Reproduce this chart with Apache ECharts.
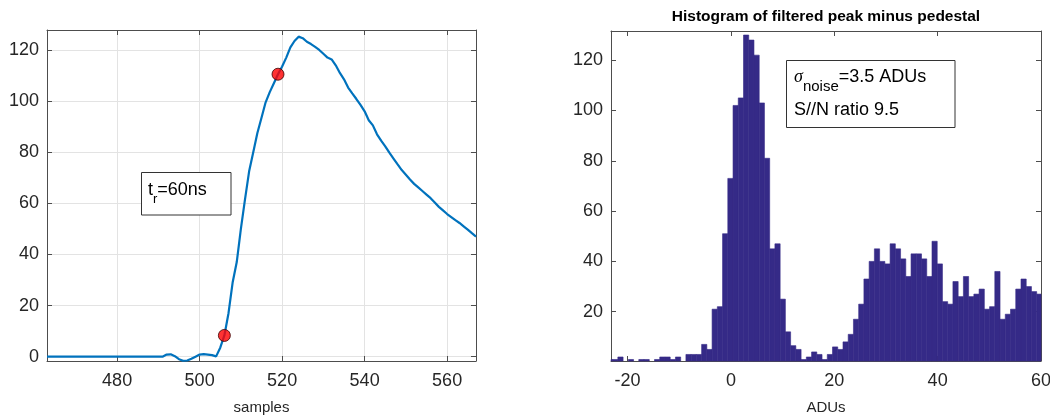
<!DOCTYPE html>
<html>
<head>
<meta charset="utf-8">
<script src="https://cdn.jsdelivr.net/npm/echarts@6/dist/echarts.min.js"></script>
<style>html,body{margin:0;padding:0;background:#fff}#c{width:1050px;height:415px}</style>
</head>
<body>
<div id="c"></div>
<script>
// ---- Left panel: filtered pulse ----
const pulseSamples = [463,464,465,466,467,468,469,470,471,472,473,474,475,476,477,478,479,480,481,482,483,484,485,486,487,488,489,490,491,
  492,493,494,495,496,497,498,499,500,501,502,503,504,505,506,507,508,509,510,511,512,513,514,515,516,517,518,519,520,521,522,523,524,525,
  526,527,528,529,530,531,532,533,534,535,536,537,538,539,540,541,542,543,544,545,546,547,548,549,550,551,552,553,554,555,556,557,558,559,
  560,561,562,563,564,565,566,567];
const pulseValues = [0,0,0,0,0,0,0,0,0,0,0,0,0,0,0,0,0,0,0,0,0,0,0,0,0,0,0,0,0,
  0.8,0.9,0.2,-1,-1.6,-1.5,-0.8,0,0.8,1,0.8,0.6,0.1,3.5,8.3,17,29,37,50,61.5,72.5,80,87.5,93.5,99.5,103.5,107,110.5,113.5,117,121,123.5,125.2,124.6,
  123.2,122.3,121.2,120,118.5,117,116.3,114,111,108.5,105.3,103,100.8,98.5,96,92.5,90.5,87,84.5,82.3,79.8,77.5,75.2,73,71.2,69.3,67.6,66.2,64.8,63.4,62,60.3,58.6,57.2,
  55.8,54.6,53.4,52.3,51,49.7,48.3,47];
const riseMarkSamples = [506, 519];
const riseMarkValues = [8.3, 110.5];
const pulseXTicks = [480, 500, 520, 540, 560];
const pulseYTicks = [0, 20, 40, 60, 80, 100, 120];

// ---- Right panel: histogram ----
const histBinStart = -23.9;   // left edge of first bin (ADUs)
const histBinWidth = 1.013;   // bin width (ADUs)
const histCounts = [1,1,2,0,1,0,1,1,0,1,2,2,1,2,0,3,3,3,7,5,
  21,22,51,73,102,105,130,128,122,103,81,45,47,25,12,6.5,5,1,2,4,3,1,3,6,5,8,11,17,23,33,
  40,45,40,39,47,45,41,34,43,43,41,34,48,39,24,23,32,26,34,26,27,29,21,22,36,17,19,21,29,33,30,28,27];
const histXTicks = [-20, 0, 20, 40, 60];
const histYTicks = [20, 40, 60, 80, 100, 120];

const FONT = "'Liberation Sans', Arial, Helvetica, sans-serif";
const TXT = '#262626';
const AX = '#4d4d4d';

const pulseData = pulseSamples.map((s, i) => [s, pulseValues[i]]);
const markData = riseMarkSamples.map((s, i) => [s, riseMarkValues[i]]);
const histData = histCounts.map((c, i) => [histBinStart + i * histBinWidth, histBinStart + (i + 1) * histBinWidth, c]);

function tickFilter(list) {
  return v => (list.some(t => Math.abs(t - v) < 1e-6) ? String(v) : '');
}
function mainX(grid, min, max, ticks, name, split) {
  return {
    type: 'value', gridIndex: grid, min: min, max: max, splitNumber: 5, position: 'bottom',
    axisLine: { show: true, onZero: false, lineStyle: { color: AX, width: 1 } },
    axisTick: { show: true, inside: true, length: 5, lineStyle: { color: AX } },
    axisLabel: { fontSize: 18, color: TXT, fontFamily: FONT, margin: 11, formatter: tickFilter(ticks) },
    splitLine: { show: split, lineStyle: { color: '#e3e3e3', width: 1 } },
    name: name, nameLocation: 'middle', nameGap: 39,
    nameTextStyle: { fontSize: 15, color: TXT, fontFamily: FONT }
  };
}
function mirrorX(grid, min, max) {
  return {
    type: 'value', gridIndex: grid, min: min, max: max, splitNumber: 5, position: 'top',
    axisLine: { show: true, onZero: false, lineStyle: { color: AX, width: 1 } },
    axisTick: { show: true, inside: true, length: 5, lineStyle: { color: AX } },
    axisLabel: { show: false }, splitLine: { show: false }
  };
}
function mainY(grid, min, max, ticks, split) {
  return {
    type: 'value', gridIndex: grid, min: min, max: max, splitNumber: 6, position: 'left',
    axisLine: { show: true, onZero: false, lineStyle: { color: AX, width: 1 } },
    axisTick: { show: true, inside: true, length: 5, lineStyle: { color: AX } },
    axisLabel: { fontSize: 18, color: TXT, fontFamily: FONT, margin: 8, formatter: tickFilter(ticks) },
    splitLine: { show: split, lineStyle: { color: '#e3e3e3', width: 1 } }
  };
}
function mirrorY(grid, min, max) {
  return {
    type: 'value', gridIndex: grid, min: min, max: max, splitNumber: 6, position: 'right',
    axisLine: { show: true, onZero: false, lineStyle: { color: AX, width: 1 } },
    axisTick: { show: true, inside: true, length: 5, lineStyle: { color: AX } },
    axisLabel: { show: false }, splitLine: { show: false }
  };
}

const chart = echarts.init(document.getElementById('c'), null, { renderer: 'canvas' });
chart.setOption({
  animation: false,
  backgroundColor: '#fff',
  grid: [
    { left: 47, top: 30, width: 429, height: 331, containLabel: false, outerBoundsMode: 'none' },
    { left: 611, top: 31, width: 430, height: 330, containLabel: false, outerBoundsMode: 'none' }
  ],
  xAxis: [
    mainX(0, 463, 567, pulseXTicks, 'samples', true),
    mirrorX(0, 463, 567),
    mainX(1, -23.2, 60, histXTicks, 'ADUs', false),
    mirrorX(1, -23.2, 60)
  ],
  yAxis: [
    mainY(0, -1.7, 127.8, pulseYTicks, true),
    mirrorY(0, -1.7, 127.8),
    mainY(1, 0.4, 131.6, histYTicks, false),
    mirrorY(1, 0.4, 131.6)
  ],
  series: [
    {
      type: 'line', xAxisIndex: 0, yAxisIndex: 0, data: pulseData, showSymbol: false, symbol: 'none',
      lineStyle: { color: '#0072BD', width: 2.2 }, z: 3
    },
    {
      type: 'scatter', xAxisIndex: 0, yAxisIndex: 0, data: markData, symbol: 'circle', symbolSize: 12,
      itemStyle: { color: '#ff0000', borderColor: '#3a0000', borderWidth: 1 }, z: 4
    },
    {
      type: 'custom', xAxisIndex: 2, yAxisIndex: 2, data: histData,
      renderItem: function (params, api) {
        const p0 = api.coord([api.value(0), api.value(2)]);
        const p1 = api.coord([api.value(1), 0]);
        const rect = echarts.graphic.clipRectByRect(
          { x: p0[0], y: p0[1], width: p1[0] - p0[0], height: p1[1] - p0[1] },
          { x: params.coordSys.x, y: params.coordSys.y, width: params.coordSys.width, height: params.coordSys.height }
        );
        return rect && {
          type: 'rect', shape: rect,
          style: { fill: '#352a87', stroke: '#352a87', lineWidth: 0.6 }
        };
      }
    }
  ],
  graphic: [
    { type: 'text', x: 826, y: 9, z: 10,
      style: { text: 'Histogram of filtered peak minus pedestal', fontSize: 15.5, fontWeight: 'bold', fill: '#000', fontFamily: FONT, align: 'center', textAlign: 'center' } },
    // t_r box
    { type: 'rect', shape: { x: 141.5, y: 172.5, width: 89.5, height: 42.5 }, z: 10,
      style: { fill: '#fff', stroke: '#333', lineWidth: 1 } },
    { type: 'text', x: 148, y: 181, z: 11,
      style: {
        text: '{m|t}{s|r}{m|=60ns}',
        rich: {
          m: { fontSize: 18, lineHeight: 18, verticalAlign: 'top', fill: '#000', fontFamily: FONT },
          s: { fontSize: 13, lineHeight: 25, verticalAlign: 'bottom', fill: '#000', fontFamily: FONT }
        }
      } },
    // sigma box
    { type: 'rect', shape: { x: 786.5, y: 60.5, width: 168.5, height: 67 }, z: 10,
      style: { fill: '#fff', stroke: '#333', lineWidth: 1 } },
    { type: 'text', x: 794, y: 68, z: 11,
      style: {
        text: '{g|σ}{s|noise}{m|=3.5 ADUs}',
        rich: {
          g: { fontSize: 18, lineHeight: 18, verticalAlign: 'top', fill: '#000', fontStyle: 'italic', fontFamily: "'Liberation Serif', 'DejaVu Serif', serif" },
          m: { fontSize: 18, lineHeight: 18, verticalAlign: 'top', fill: '#000', fontFamily: FONT },
          s: { fontSize: 15, lineHeight: 26, verticalAlign: 'bottom', fill: '#000', fontFamily: FONT }
        }
      } },
    { type: 'text', x: 794, y: 101, z: 11,
      style: { text: 'S//N ratio 9.5', fontSize: 18, fill: '#000', fontFamily: FONT } }
  ]
});
</script>
</body>
</html>
